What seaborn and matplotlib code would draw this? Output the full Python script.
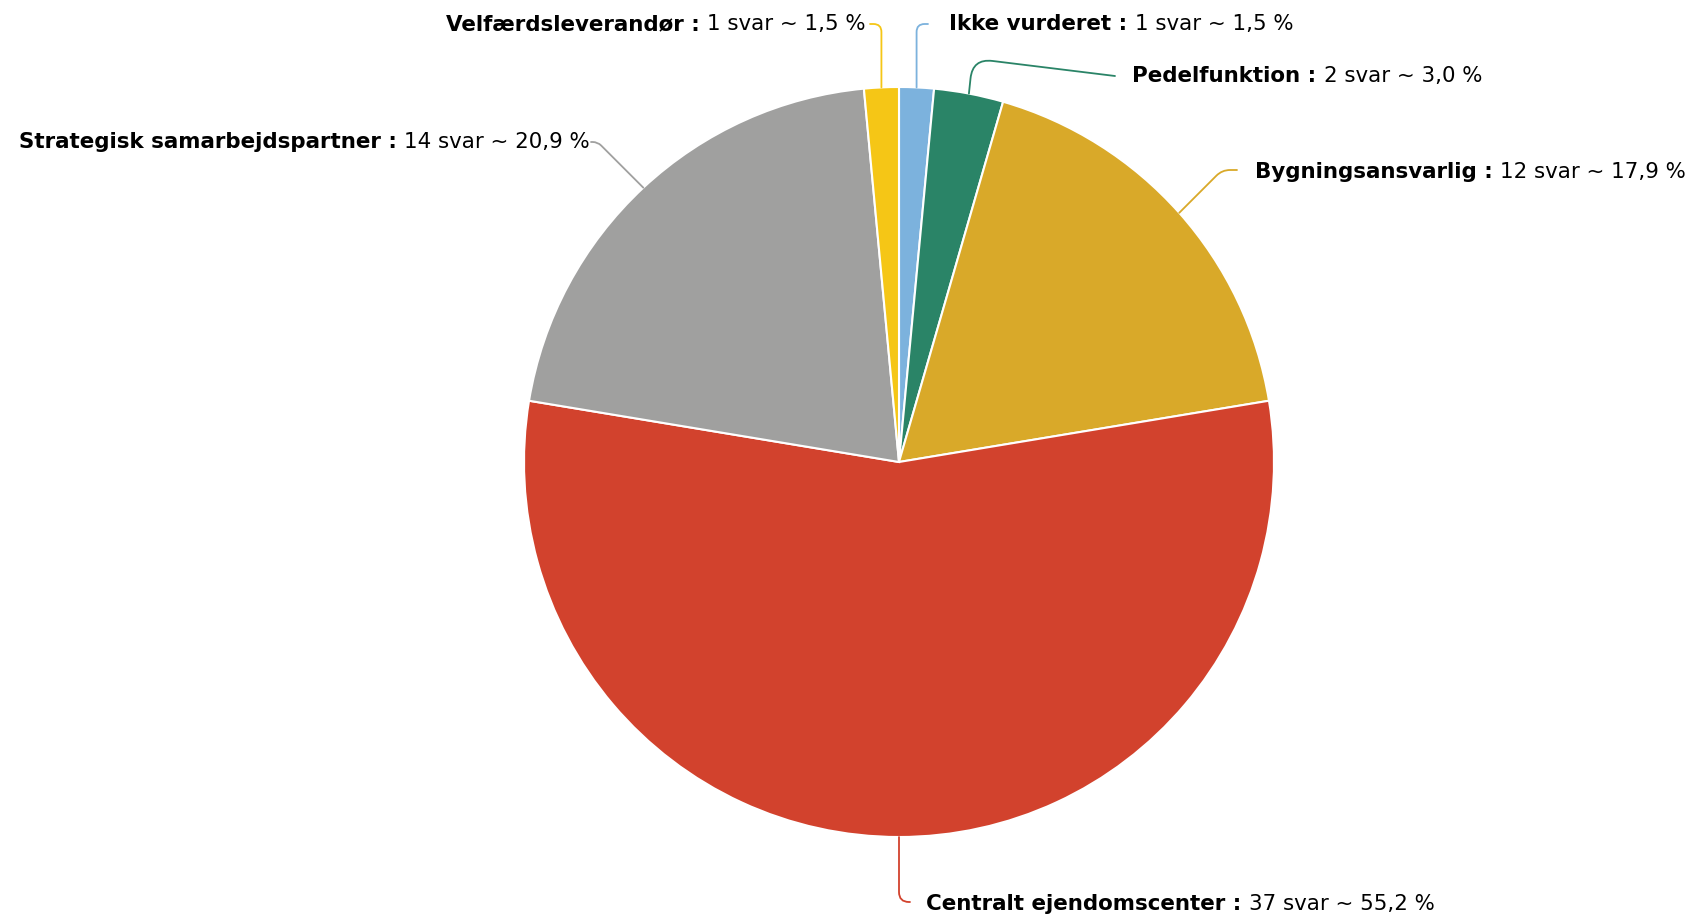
import matplotlib
matplotlib.use("Agg")
import matplotlib.pyplot as plt
import seaborn as sns
import numpy as np

sns.set_theme(style="white")
plt.rcParams["font.family"] = ["DejaVu Sans"]

W, H = 1698, 918

# ---- data ----
categories = ["Ikke vurderet", "Pedelfunktion", "Bygningsansvarlig",
              "Centralt ejendomscenter", "Strategisk samarbejdspartner",
              "Velfærdsleverandør"]
counts = [1, 2, 12, 37, 14, 1]
colors = ["#7cb2dd", "#2a8467", "#d9a929", "#d2422d", "#a0a09f", "#f5c616"]

# ---- label layout (pixel coords, y from top) ----
label_xy = [(949, 24), (1132, 76), (1255, 172), (926, 904), (590, 142), (866, 24)]
label_ha = ["left", "left", "left", "left", "right", "right"]
leader_end = [(928, 24), (1115, 76), (1237, 170), (910, 902), (591, 142), (870, 24)]
leader_ang = [(0, 90), (-7, 84), (0, 45), (0, 90), (0, 135), (0, 90)]
leader_rad = [8, 20, 8, 10, 5, 8]

CX, CY, R = 899, H - 462, 375
FS = 15.4

fig = plt.figure(figsize=(W / 100, H / 100), dpi=100)
ax = fig.add_axes([0, 0, 1, 1])

wedges, _ = ax.pie(counts, colors=colors, startangle=90, counterclock=False,
                   center=(CX, CY), radius=R,
                   wedgeprops=dict(edgecolor="white", linewidth=1.5))
ax.set_xlim(0, W)
ax.set_ylim(0, H)
ax.set_aspect("equal")
ax.axis("off")

total = sum(counts)
fig.canvas.draw()
renderer = fig.canvas.get_renderer()
inv = ax.transData.inverted()

for i, w in enumerate(wedges):
    mid = np.deg2rad((w.theta1 + w.theta2) / 2)
    sx, sy = CX + R * np.cos(mid), CY + R * np.sin(mid)
    ex, ey = leader_end[i]
    aA, aB = leader_ang[i]
    ax.annotate("", xy=(sx, sy), xytext=(ex, H - ey),
                arrowprops=dict(arrowstyle="-", color=colors[i], lw=1.3,
                                shrinkA=0, shrinkB=0,
                                connectionstyle=f"angle,angleA={aA},angleB={aB},rad={leader_rad[i]}"))

    bold = f"{categories[i]} : "
    pct = f"{counts[i] / total * 100:.1f}".replace(".", ",")
    reg = f"{counts[i]} svar ~ {pct} %"
    lx, ly = label_xy[i]
    ly = H - ly
    if label_ha[i] == "left":
        t = ax.text(lx, ly, bold, fontsize=FS, fontweight="bold", ha="left", va="center", color="black")
        bb = t.get_window_extent(renderer)
        x1 = inv.transform((bb.x1, bb.y0))[0]
        ax.text(x1, ly, reg, fontsize=FS, ha="left", va="center", color="black")
    else:
        t = ax.text(lx, ly, reg, fontsize=FS, ha="right", va="center", color="black")
        bb = t.get_window_extent(renderer)
        x0 = inv.transform((bb.x0, bb.y0))[0]
        ax.text(x0, ly, bold, fontsize=FS, fontweight="bold", ha="right", va="center", color="black")

fig.savefig("out.png", dpi=100, facecolor="white")
